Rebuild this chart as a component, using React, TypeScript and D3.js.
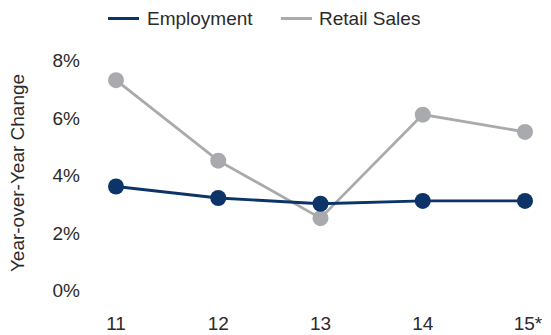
import React from "react";
import * as d3 from "d3";

const categories = ["11", "12", "13", "14", "15*"];
const employment = [3.6, 3.2, 3.0, 3.1, 3.1];
const retailSales = [7.3, 4.5, 2.5, 6.1, 5.5];
const yTicks = [0, 2, 4, 6, 8];
const seriesNames = ["Employment", "Retail Sales"];

const W = 551;
const H = 335;
const NAVY = "#0d3468";
const GRAY = "#a9aaad";
const TEXT = "#2b2b2b";
const FONT = "'Liberation Sans', Arial, Helvetica, sans-serif";
const FS = 19;

export default function App() {
  const x = d3.scalePoint<string>().domain(categories).range([116, 525]);
  const y = d3.scaleLinear().domain([0, 8]).range([290, 60]);
  const line = d3
    .line<number>()
    .x((_, i) => x(categories[i]) as number)
    .y((d) => y(d));

  const series = [
    { name: seriesNames[1], values: retailSales, color: GRAY },
    { name: seriesNames[0], values: employment, color: NAVY },
  ];

  return (
    <svg
      width={W}
      height={H}
      style={{ position: "absolute", left: 0, top: 0, fontFamily: FONT }}
    >
      <rect width={W} height={H} fill="#fff" />
      {/* legend */}
      <g>
        <line x1={108} x2={139} y1={18.5} y2={18.5} stroke={NAVY} strokeWidth={3} />
        <text x={147} y={25} fontSize={FS} fill={TEXT}>
          {seriesNames[0]}
        </text>
        <line x1={281} x2={312} y1={18.5} y2={18.5} stroke={GRAY} strokeWidth={3} />
        <text x={319} y={25} fontSize={FS} fill={TEXT}>
          {seriesNames[1]}
        </text>
      </g>
      {/* y axis labels */}
      {yTicks.map((t) => (
        <text
          key={t}
          x={80}
          y={y(t) + 7}
          textAnchor="end"
          fontSize={FS}
          fill={TEXT}
        >
          {`${t}%`}
        </text>
      ))}
      <text
        transform={`translate(24,${173}) rotate(-90)`}
        textAnchor="middle"
        fontSize={FS}
        fill={TEXT}
      >
        Year-over-Year Change
      </text>
      {/* x axis labels */}
      {categories.map((c) => (
        <text
          key={c}
          x={(x(c) as number) + (c.endsWith("*") ? 3 : 0)}
          y={330}
          textAnchor="middle"
          fontSize={FS}
          fill={TEXT}
        >
          {c}
        </text>
      ))}
      {series.map((s) => (
        <g key={s.name}>
          <path d={line(s.values) || ""} fill="none" stroke={s.color} strokeWidth={2.8} />
          {s.values.map((v, i) => (
            <circle
              key={i}
              cx={x(categories[i]) as number}
              cy={y(v)}
              r={8}
              fill={s.color}
            />
          ))}
        </g>
      ))}
    </svg>
  );
}
